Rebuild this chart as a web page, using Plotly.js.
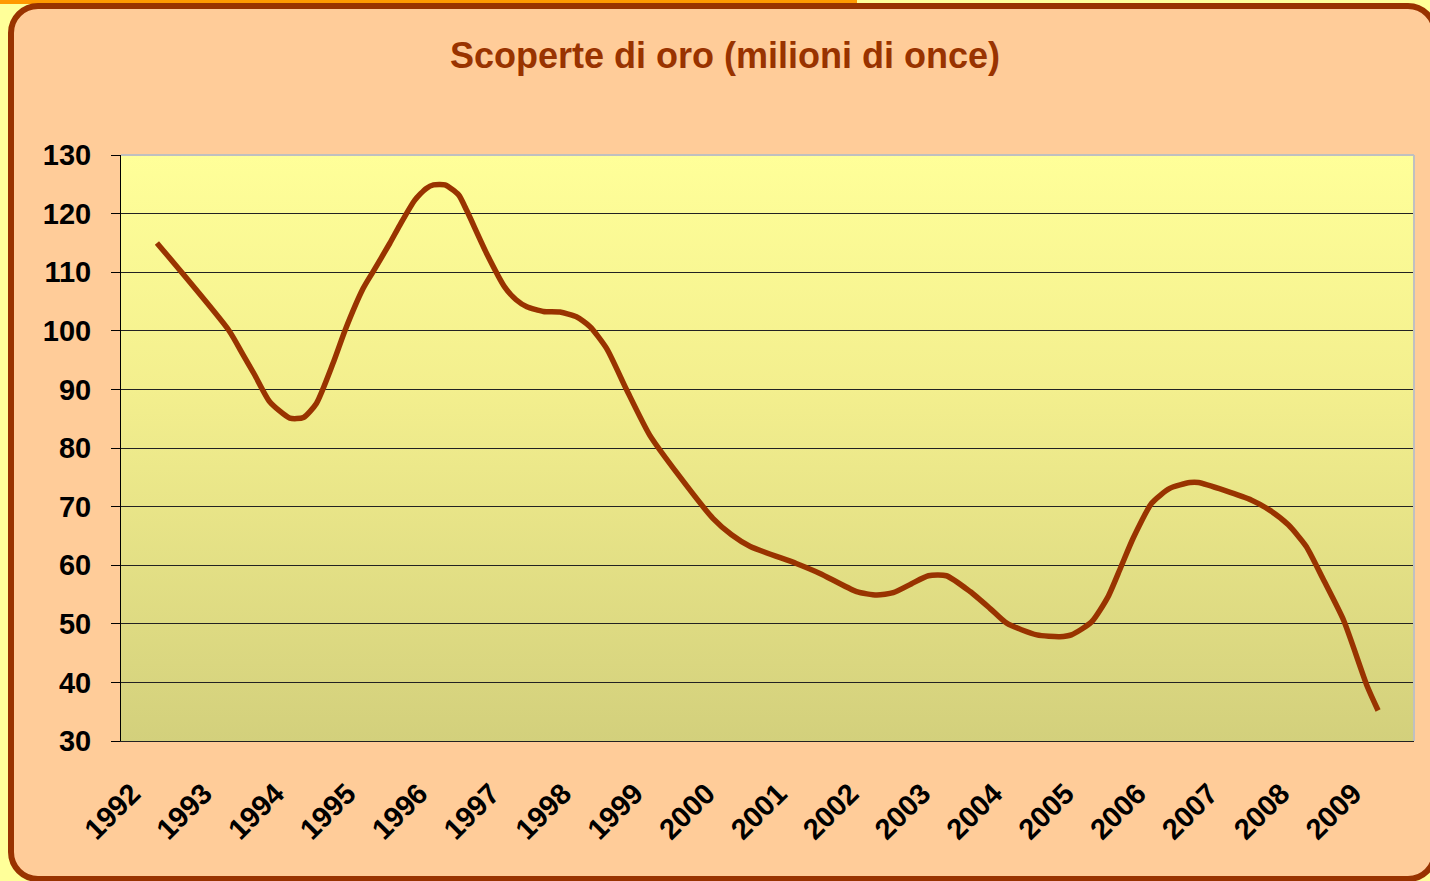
<!DOCTYPE html>
<html>
<head>
<meta charset="utf-8">
<script src="https://cdn.plot.ly/plotly-3.0.1.min.js"></script>
<style>
  html, body { margin:0; padding:0; width:1430px; height:881px; overflow:hidden; background:#FFFF99; }
  #topbar { position:absolute; left:0; top:0; width:857px; height:4px; background:#FF9900; }
  #frame { position:absolute; left:8px; top:3px; width:1430px; height:879px; box-sizing:border-box;
           border:6px solid #993300; border-radius:30px; background:#FFCC99; }
  #plotbg { position:absolute; left:121px; top:155px; width:1293px; height:586px;
            background:linear-gradient(to bottom, #FFFF99 0%, #F3EF8E 40%, #D3D07C 100%); }
  #chart { position:absolute; left:0; top:0; width:1430px; height:881px; }
</style>
</head>
<body>
<div id="topbar"></div>
<div id="frame"></div>
<div id="plotbg"></div>
<div id="chart"></div>
<script>
// Category (year) labels
const years = [1992,1993,1994,1995,1996,1997,1998,1999,2000,2001,2002,2003,2004,2005,2006,2007,2008,2009];
const yearLabels = years.map(String);

// Series: gold discoveries (million ounces)
const seriesX = [1992.00,1993.00,1993.20,1993.36,1993.57,1993.85,1994.04,1994.22,1994.45,1994.62,
                 1994.87,1995.01,1995.24,1995.38,1995.59,1995.75,1995.85,1996.01,1996.20,1996.31,
                 1996.59,1996.84,1997.00,1997.15,1997.38,1997.61,1997.84,1998.03,1998.26,1998.54,
                 1998.86,1999.26,1999.74,2000.00,2000.26,2000.90,2001.23,2001.74,2002.02,2002.25,
                 2002.50,2002.74,2002.99,2003.32,2003.60,2003.83,2004.25,2004.57,2004.73,2005.01,
                 2005.24,2005.42,2005.59,2005.85,2006.10,2006.38,2006.50,2007.24,2007.49,2007.75,
                 2008.00,2008.24,2008.52,2008.85,2009.00];
const seriesY = [115.0,100.1,95.9,92.5,87.9,85.1,85.2,87.6,94.4,100.1,
                 107.2,110.1,114.9,118.0,122.3,124.3,124.9,124.9,123.2,120.6,
                 113.2,107.5,105.3,104.1,103.3,103.2,102.4,100.7,97.0,89.9,
                 82.2,75.4,68.0,65.2,63.2,60.3,58.6,55.5,54.9,55.3,
                 56.8,58.2,58.2,55.5,52.6,50.1,48.1,47.8,48.1,50.3,
                 54.6,59.7,64.6,70.6,73.1,74.1,74.1,71.1,69.4,66.9,
                 63.2,57.5,50.6,39.3,35.2];

const titleText = "Scoperte di oro (milioni di once)";
const yTicks = [30,40,50,60,70,80,90,100,110,120,130];

const boundaries = years.map(y => y - 0.5).concat([years[years.length-1] + 0.5]);
const xRange = [boundaries[0], boundaries[boundaries.length-1]];

const FONT = "'Liberation Sans', Arial, sans-serif";

const traces = [{
  type:'scatter', mode:'lines', x: seriesX, y: seriesY,
  line:{color:'#993300', width:5.5, shape:'spline', smoothing:0.6},
  hoverinfo:'skip', showlegend:false
}];

const layout = {
  width:1430, height:881,
  margin:{l:121, r:16, t:155, b:140, pad:0},
  paper_bgcolor:'rgba(0,0,0,0)', plot_bgcolor:'rgba(0,0,0,0)',
  showlegend:false,
  title:{text:titleText, x:725/1430, xref:'container', xanchor:'center',
         y:1-55/881, yref:'container', yanchor:'middle',
         font:{family:FONT, size:36, color:'#993300', weight:'bold'}},
  xaxis:{type:'linear', range:xRange, tickmode:'array', tickvals:years, ticktext:yearLabels,
         tickangle:-45, ticks:'', showgrid:false, zeroline:false,
         showline:true, linecolor:'#222', linewidth:1,
         ticklabelshift:-25, ticklabelstandoff:23,
         tickfont:{family:FONT, size:29, color:'#000', weight:'bold'}, fixedrange:true},
  xaxis2:{type:'linear', overlaying:'x', anchor:'y', side:'bottom', range:xRange,
          tickmode:'array', tickvals:boundaries, ticks:'outside', ticklen:9, tickcolor:'#000', tickwidth:1,
          showticklabels:false, showgrid:false, zeroline:false, showline:false, fixedrange:true},
  yaxis:{range:[30,130], tickmode:'array', tickvals:yTicks, ticks:'outside', ticklen:9,
         tickcolor:'#000', tickwidth:1, showline:true, linecolor:'#000', linewidth:1,
         showgrid:true, gridcolor:'#222', gridwidth:1, zeroline:false,
         ticklabelstandoff:14,
         tickfont:{family:FONT, size:29, color:'#000', weight:'bold'}, fixedrange:true},
  shapes:[
    {type:'line', xref:'paper', yref:'paper', x0:0, x1:1, y0:1, y1:1, line:{color:'#C0C0C0', width:2}},
    {type:'line', xref:'paper', yref:'paper', x0:1, x1:1, y0:0, y1:1, line:{color:'#C0C0C0', width:2}}
  ]
};

Plotly.newPlot('chart', traces, layout, {staticPlot:true, displayModeBar:false});
</script>
</body>
</html>
